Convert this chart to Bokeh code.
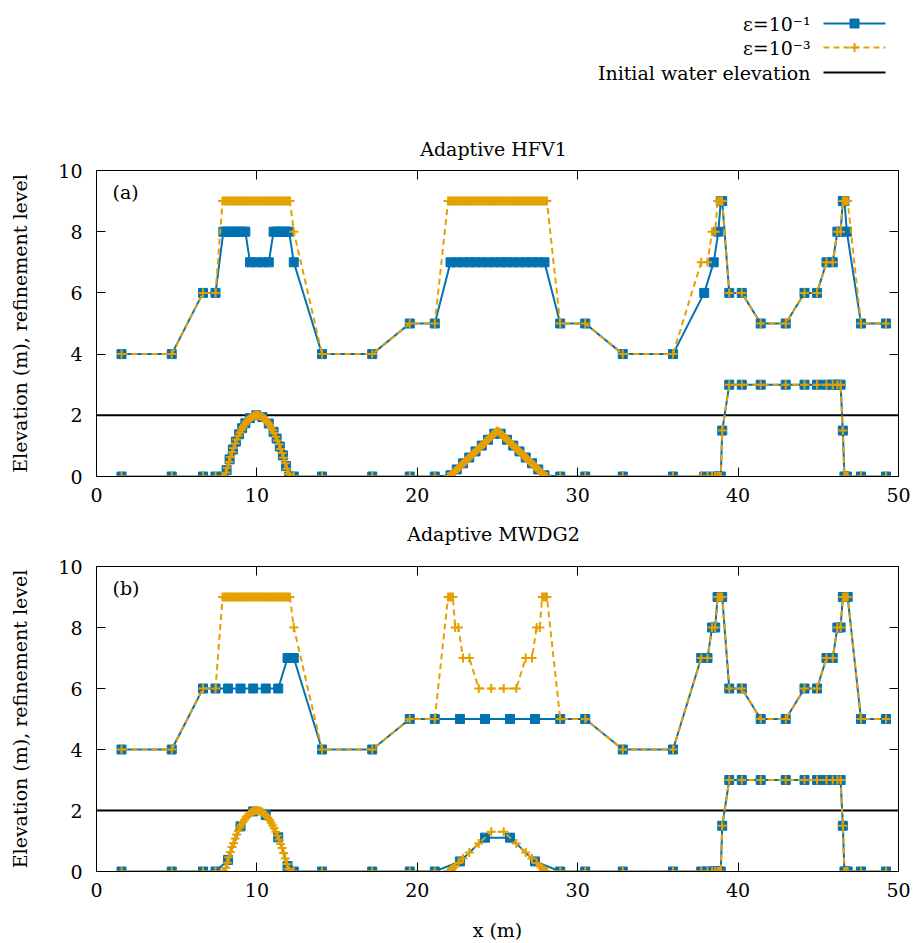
from bokeh.plotting import figure
from bokeh.layouts import column
from bokeh.models import Range1d, LinearAxis, FixedTicker, Label, ColumnDataSource
from bokeh.embed import file_html
from bokeh.resources import INLINE
from bokeh.core.properties import value

BLUE = "#0072B2"
ORANGE = "#E69F00"
FONT = "DejaVu Serif"
FS = "19px"

# ---------------------------------------------------------------------------
# Cell centres (x, m), refinement level and bed elevation (m), by stretch
# ---------------------------------------------------------------------------
left_x = [1.56, 4.69, 6.64, 7.42]
left_level = [4, 4, 6, 6]
left_bed = [0, 0, 0, 0]

mid_x = [14.06, 17.19, 19.53, 21.09]
mid_level = [4, 4, 5, 5]
mid_bed = [0, 0, 0, 0]

right_x = [28.91, 30.47, 32.81, 35.94]
right_level = [5, 5, 4, 4]
right_bed = [0, 0, 0, 0]

# first hump, HFV1 with eps = 1e-1
hfv_coarse_hump1_x = [7.91, 8.11, 8.30, 8.50, 8.69, 8.89, 9.08, 9.28, 9.57, 9.96,
                      10.35, 10.74, 11.04, 11.23, 11.43, 11.62, 11.82, 12.01, 12.30]
hfv_coarse_hump1_level = [8, 8, 8, 8, 8, 8, 8, 8, 7, 7,
                          7, 7, 8, 8, 8, 8, 8, 8, 7]
hfv_coarse_hump1_bed = [0, 0.21, 0.56, 0.88, 1.14, 1.38, 1.58, 1.74, 1.91, 2.00,
                        1.94, 1.73, 1.46, 1.24, 0.98, 0.69, 0.34, 0, 0]

# first hump, MWDG2 with eps = 1e-1
mw_coarse_hump1_x = [8.20, 8.98, 9.77, 10.55, 11.33, 11.91, 12.30]
mw_coarse_hump1_level = [6, 6, 6, 6, 6, 7, 7]
mw_coarse_hump1_bed = [0.38, 1.48, 1.97, 1.85, 1.12, 0.18, 0]

# first hump, eps = 1e-3 (both schemes)
fine_hump1_x = [7.86, 7.96, 8.06, 8.15, 8.25, 8.35, 8.45, 8.54, 8.64, 8.74,
                8.84, 8.94, 9.03, 9.13, 9.23, 9.33, 9.42, 9.52, 9.62, 9.72,
                9.81, 9.91, 10.01, 10.11, 10.21, 10.30, 10.40, 10.50, 10.60, 10.69,
                10.79, 10.89, 10.99, 11.08, 11.18, 11.28, 11.38, 11.48, 11.57, 11.67,
                11.77, 11.87, 11.96, 12.06, 12.30]
fine_hump1_level = [9, 9, 9, 9, 9, 9, 9, 9, 9, 9,
                    9, 9, 9, 9, 9, 9, 9, 9, 9, 9,
                    9, 9, 9, 9, 9, 9, 9, 9, 9, 9,
                    9, 9, 9, 9, 9, 9, 9, 9, 9, 9,
                    9, 9, 9, 9, 8]
fine_hump1_bed = [0, 0, 0.12, 0.29, 0.47, 0.64, 0.80, 0.93, 1.08, 1.21,
                  1.33, 1.44, 1.53, 1.62, 1.70, 1.78, 1.83, 1.88, 1.93, 1.96,
                  1.98, 2.00, 2.00, 1.99, 1.98, 1.96, 1.92, 1.88, 1.82, 1.76,
                  1.69, 1.60, 1.51, 1.42, 1.30, 1.18, 1.05, 0.90, 0.77, 0.61,
                  0.43, 0.25, 0.08, 0, 0]

# second hump, HFV1 with eps = 1e-1
hfv_coarse_hump2_x = [22.07, 22.46, 22.85, 23.24, 23.63, 24.02, 24.41, 24.80,
                      25.20, 25.59, 25.98, 26.37, 26.76, 27.15, 27.54, 27.93]
hfv_coarse_hump2_level = [7, 7, 7, 7, 7, 7, 7, 7,
                          7, 7, 7, 7, 7, 7, 7, 7]
hfv_coarse_hump2_bed = [0.04, 0.23, 0.43, 0.62, 0.82, 1.01, 1.20, 1.40,
                        1.40, 1.20, 1.01, 0.82, 0.62, 0.43, 0.23, 0.04]

# second hump, HFV1 with eps = 1e-3
hfv_fine_hump2_x = [21.92, 22.02, 22.12, 22.22, 22.31, 22.41, 22.51, 22.61,
                    22.71, 22.80, 22.90, 23.00, 23.10, 23.19, 23.29, 23.39,
                    23.49, 23.58, 23.68, 23.78, 23.88, 23.97, 24.07, 24.17,
                    24.27, 24.37, 24.46, 24.56, 24.66, 24.76, 24.85, 24.95,
                    25.05, 25.15, 25.24, 25.34, 25.44, 25.54, 25.63, 25.73,
                    25.83, 25.93, 26.03, 26.12, 26.22, 26.32, 26.42, 26.51,
                    26.61, 26.71, 26.81, 26.90, 27.00, 27.10, 27.20, 27.29,
                    27.39, 27.49, 27.59, 27.69, 27.78, 27.88, 27.98, 28.08]
hfv_fine_hump2_level = [9, 9, 9, 9, 9, 9, 9, 9, 9, 9, 9, 9, 9, 9, 9, 9,
                        9, 9, 9, 9, 9, 9, 9, 9, 9, 9, 9, 9, 9, 9, 9, 9,
                        9, 9, 9, 9, 9, 9, 9, 9, 9, 9, 9, 9, 9, 9, 9, 9,
                        9, 9, 9, 9, 9, 9, 9, 9, 9, 9, 9, 9, 9, 9, 9, 9]
hfv_fine_hump2_bed = [0, 0.01, 0.06, 0.11, 0.15, 0.20, 0.25, 0.30,
                      0.35, 0.40, 0.45, 0.50, 0.55, 0.60, 0.64, 0.70,
                      0.74, 0.79, 0.84, 0.89, 0.94, 0.98, 1.04, 1.08,
                      1.14, 1.18, 1.23, 1.28, 1.33, 1.38, 1.42, 1.48,
                      1.48, 1.42, 1.38, 1.33, 1.28, 1.23, 1.18, 1.14,
                      1.08, 1.04, 0.98, 0.94, 0.89, 0.84, 0.79, 0.74,
                      0.70, 0.64, 0.60, 0.55, 0.50, 0.45, 0.40, 0.35,
                      0.30, 0.25, 0.20, 0.15, 0.11, 0.06, 0.01, 0]

# second hump, MWDG2
mw_coarse_hump2_x = [22.66, 24.22, 25.78, 27.34]
mw_coarse_hump2_level = [5, 5, 5, 5]
mw_coarse_hump2_bed = [0.33, 1.11, 1.11, 0.33]

mw_fine_hump2_x = [21.92, 22.02, 22.12, 22.22, 22.36, 22.56, 22.85, 23.24, 23.83, 24.61,
                   25.39, 26.17, 26.76, 27.15, 27.44, 27.64, 27.78, 27.88, 27.98, 28.08]
mw_fine_hump2_level = [9, 9, 9, 9, 8, 8, 7, 7, 6, 6,
                       6, 6, 7, 7, 8, 8, 9, 9, 9, 9]
mw_fine_hump2_bed = [0, 0.01, 0.06, 0.11, 0.18, 0.28, 0.43, 0.62, 0.92, 1.30,
                     1.30, 0.92, 0.62, 0.43, 0.28, 0.18, 0.11, 0.06, 0.01, 0]

# rectangular block, HFV1 with eps = 1e-1
hfv_coarse_block_x = [37.89, 38.48, 38.77, 38.92, 39.01, 39.45, 40.23, 41.41, 42.97, 44.14,
                      44.92, 45.51, 45.90, 46.19, 46.39, 46.53, 46.63, 46.78, 47.66, 49.22]
hfv_coarse_block_level = [6, 7, 8, 9, 9, 6, 6, 5, 5, 6,
                          6, 7, 7, 8, 8, 9, 9, 8, 5, 5]
hfv_coarse_block_bed = [0, 0, 0, 0, 1.5, 3, 3, 3, 3, 3,
                        3, 3, 3, 3, 3, 1.5, 0, 0, 0, 0]

# rectangular block, remaining runs
fine_block_x = [37.70, 38.09, 38.38, 38.57, 38.72, 38.82, 38.92, 39.01, 39.45, 40.23,
                41.41, 42.97, 44.14, 44.92, 45.51, 45.90, 46.19, 46.39, 46.53, 46.63,
                46.73, 46.83, 47.66, 49.22]
fine_block_level = [7, 7, 8, 8, 9, 9, 9, 9, 6, 6,
                    5, 5, 6, 6, 7, 7, 8, 8, 9, 9,
                    9, 9, 5, 5]
fine_block_bed = [0, 0, 0, 0, 0, 0, 0, 1.5, 3, 3,
                  3, 3, 3, 3, 3, 3, 3, 3, 1.5, 0,
                  0, 0, 0, 0]

# initial free surface
domain_x = [0, 50]
water_level = [2, 2]

x_ticks = [0, 10, 20, 30, 40, 50]
y_ticks = [0, 2, 4, 6, 8, 10]

BORDER_L, BORDER_R, WIDTH = 96, 16, 914


def run(*parts):
    xs, lv, bd = [], [], []
    for x, l, b in parts:
        xs += x
        lv += l
        bd += b
    return dict(x=xs, level=lv, bed=bd)


L = (left_x, left_level, left_bed)
M = (mid_x, mid_level, mid_bed)
R = (right_x, right_level, right_bed)

hfv_e1 = run(L, (hfv_coarse_hump1_x, hfv_coarse_hump1_level, hfv_coarse_hump1_bed), M,
             (hfv_coarse_hump2_x, hfv_coarse_hump2_level, hfv_coarse_hump2_bed), R,
             (hfv_coarse_block_x, hfv_coarse_block_level, hfv_coarse_block_bed))
hfv_e3 = run(L, (fine_hump1_x, fine_hump1_level, fine_hump1_bed), M,
             (hfv_fine_hump2_x, hfv_fine_hump2_level, hfv_fine_hump2_bed), R,
             (fine_block_x, fine_block_level, fine_block_bed))
mw_e1 = run(L, (mw_coarse_hump1_x, mw_coarse_hump1_level, mw_coarse_hump1_bed), M,
            (mw_coarse_hump2_x, mw_coarse_hump2_level, mw_coarse_hump2_bed), R,
            (fine_block_x, fine_block_level, fine_block_bed))
mw_e3 = run(L, (fine_hump1_x, fine_hump1_level, fine_hump1_bed), M,
            (mw_fine_hump2_x, mw_fine_hump2_level, mw_fine_hump2_bed), R,
            (fine_block_x, fine_block_level, fine_block_bed))


def style_axis(ax, ticks, labels=True):
    ax.ticker = FixedTicker(ticks=ticks)
    ax.major_tick_in = 9
    ax.major_tick_out = 0
    ax.minor_tick_in = 0
    ax.minor_tick_out = 0
    ax.axis_line_color = "black"
    ax.major_tick_line_color = "black"
    ax.major_label_text_font = FONT
    if labels:
        ax.major_label_text_font_size = FS
        ax.major_label_text_color = "black"
    else:
        # mirrored tick marks only: no tick labels are painted
        ax.major_label_text_font_size = "0px"
        ax.major_label_text_color = None
        ax.major_label_standoff = 0


def add_series(p, data, color, dash, marker, mline):
    src = ColumnDataSource(data)
    for col in ("level", "bed"):
        p.line("x", col, source=src, line_color=color, line_width=2, line_dash=dash)
        p.scatter("x", col, source=src, marker=marker, size=9,
                  fill_color=color, line_color=color, line_width=mline)


def strip(height):
    """Band above a panel; its x and y read directly as page pixels."""
    s = figure(width=WIDTH, height=height,
               x_range=Range1d(BORDER_L, WIDTH - BORDER_R), y_range=Range1d(height, 0),
               output_backend="svg", toolbar_location=None,
               x_axis_location=None, y_axis_location=None,
               min_border_left=BORDER_L, min_border_right=BORDER_R,
               min_border_top=0, min_border_bottom=0)
    s.outline_line_color = None
    s.grid.visible = False
    return s


def heading(s, text, y):
    s.text(x=[493], y=[y], text=[text], text_align="center", text_baseline="middle",
           text_font=value(FONT), text_font_size=FS, text_color="black")


def panel(tag, e1, e3, height, top, bottom, xlabel=None):
    p = figure(width=WIDTH, height=height, x_range=Range1d(0, 50), y_range=Range1d(0, 10),
               output_backend="svg", toolbar_location=None,
               min_border_left=BORDER_L, min_border_right=BORDER_R,
               min_border_top=top, min_border_bottom=bottom)
    p.grid.visible = False
    p.outline_line_color = "black"
    p.outline_line_alpha = 1
    p.background_fill_color = "white"
    p.border_fill_color = "white"

    style_axis(p.xaxis[0], x_ticks)
    p.xaxis.major_label_standoff = 11
    style_axis(p.yaxis[0], y_ticks)
    p.yaxis.major_label_standoff = 14
    p.yaxis.axis_label = "Elevation (m), refinement level"
    p.yaxis.axis_label_text_font = FONT
    p.yaxis.axis_label_text_font_size = FS
    p.yaxis.axis_label_text_font_style = "normal"
    p.yaxis.axis_label_text_color = "black"
    p.yaxis.axis_label_standoff = 24
    if xlabel:
        p.xaxis.axis_label = xlabel
        p.xaxis.axis_label_text_font = FONT
        p.xaxis.axis_label_text_font_size = FS
        p.xaxis.axis_label_text_font_style = "normal"
        p.xaxis.axis_label_text_color = "black"
        p.xaxis.axis_label_standoff = 19

    top_ax = LinearAxis()
    style_axis(top_ax, [10, 20, 30, 40], labels=False)
    p.add_layout(top_ax, "above")
    right_ax = LinearAxis()
    style_axis(right_ax, [2, 4, 6, 8], labels=False)
    p.add_layout(right_ax, "right")

    p.line(domain_x, water_level, line_color="black", line_width=2)
    add_series(p, e1, BLUE, "solid", "square", 1)
    add_series(p, e3, ORANGE, "6 4", "cross", 2)

    p.add_layout(Label(x=1.0, y=9.3, text=tag, text_baseline="middle",
                       text_font=FONT, text_font_size=FS, text_color="black"))
    return p


# key and first heading
head = strip(160)
key_labels = ["ε=10⁻¹", "ε=10⁻³", "Initial water elevation"]
key_rows = [23, 47, 72]
head.text(x=[810, 810, 810], y=key_rows, text=key_labels, text_align="right",
          text_baseline="middle", text_font=value(FONT), text_font_size=FS, text_color="black")
head.line([823, 885], [key_rows[0]] * 2, line_color=BLUE, line_width=2)
head.scatter([854], [key_rows[0]], marker="square", size=9, fill_color=BLUE, line_color=BLUE)
head.line([823, 885], [key_rows[1]] * 2, line_color=ORANGE, line_width=2, line_dash="6 4")
head.scatter([854], [key_rows[1]], marker="cross", size=9, line_color=ORANGE, line_width=2)
head.line([823, 885], [key_rows[2]] * 2, line_color="black", line_width=2)
heading(head, "Adaptive HFV1", 148)

pa = panel("(a)", hfv_e1, hfv_e3, 352, 10, 36)

between = strip(44)
heading(between, "Adaptive MWDG2", 21)

pb = panel("(b)", mw_e1, mw_e3, 387, 10, 72, xlabel="x (m)")

layout = column(head, pa, between, pb, spacing=0)
open("out.html", "w").write(file_html(layout, INLINE))
